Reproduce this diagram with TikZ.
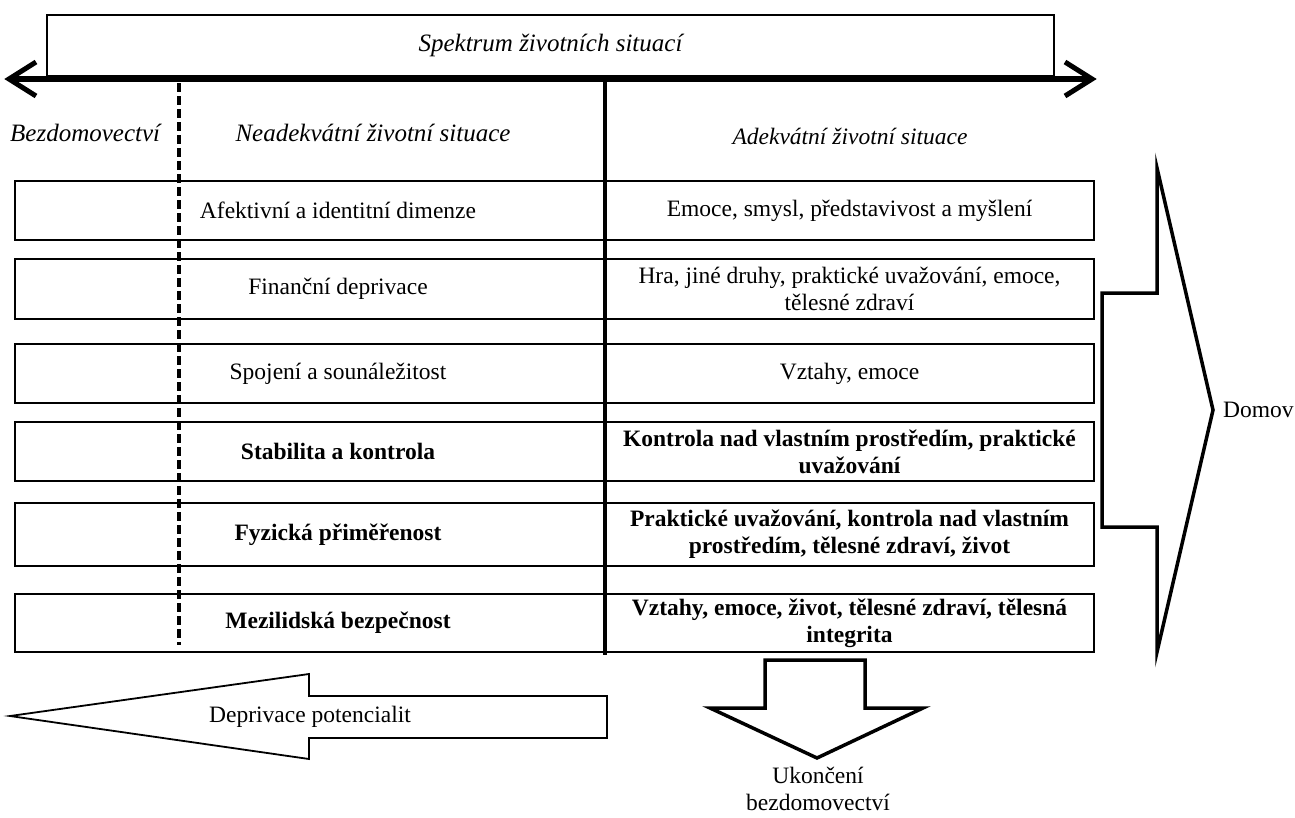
\documentclass[tikz,border=0pt]{standalone}
\usepackage{fontspec}
\setmainfont{Liberation Serif}
\usetikzlibrary{calc}
\begin{document}
\begin{tikzpicture}[x=1pt,y=-1pt,
  box/.style={draw=black, line width=1.6pt, inner sep=0pt},
  lbl/.style={font=\fontsize{23.5}{27}\selectfont, inner sep=0pt},
  rbox/.style={box, font=\fontsize{23.5}{27}\selectfont, align=center, minimum width=489pt},
  lbox/.style={box, minimum width=590pt},
  hdr/.style={font=\fontsize{25}{29}\selectfont\itshape, inner sep=0pt},
  hdrsmall/.style={font=\fontsize{23.5}{27}\selectfont\itshape, inner sep=0pt},
  bigarrow/.style={draw=black, line width=3.5pt, line join=miter},
  thinarrow/.style={draw=black, line width=1.8pt, line join=miter},
  axisline/.style={line width=6pt},
  chev/.style={line width=5pt, line cap=butt, line join=miter},
  dashline/.style={line width=3.5pt, dash pattern=on 9pt off 4pt},
  solidline/.style={line width=3.2pt},
]
\useasboundingbox (0,0) rectangle (1295,817);

% top spectrum box
\node[box, hdr, minimum width=1007pt, minimum height=61pt] (spec) at (550.5,45.5) {Spektrum životních situací};

% double-headed axis
\coordinate (AL) at (9,79);
\coordinate (AR) at (1092,79);
\draw[axisline] ($(AL)+(4,0)$) -- ($(AR)+(-4,0)$);
\draw[chev] ($(AL)+(27,-17)$) -- (AL) -- ($(AL)+(27,17)$);
\draw[chev] ($(AR)+(-27,-17)$) -- (AR) -- ($(AR)+(-27,17)$);

% headers
\node[hdr, anchor=west] (bez) at (10,133) {Bezdomovectví};
\node[hdr] (nea) at (373,133) {Neadekvátní životní situace};
\node[hdrsmall] (ade) at (850,136) {Adekvátní životní situace};

% rows
\node[lbox, minimum height=59pt] (l1) at (310,210.5) {};
\node[rbox, minimum height=59pt] (r1) at (849.5,210.5) {Emoce, smysl, představivost a myšlení};
\node[lbox, minimum height=60pt] (l2) at (310,289) {};
\node[rbox, minimum height=60pt] (r2) at (849.5,289) {Hra, jiné druhy, praktické uvažování, emoce,\\tělesné zdraví};
\node[lbox, minimum height=59pt] (l3) at (310,373.5) {};
\node[rbox, minimum height=59pt] (r3) at (849.5,373.5) {Vztahy, emoce};
\node[lbox, minimum height=59pt] (l4) at (310,451.5) {};
\node[rbox, minimum height=59pt, font=\fontsize{23.5}{27}\selectfont\bfseries] (r4) at (849.5,451.5) {Kontrola nad vlastním prostředím, praktické\\uvažování};
\node[lbox, minimum height=63pt] (l5) at (310,534.5) {};
\node[rbox, minimum height=63pt, font=\fontsize{23.5}{27}\selectfont\bfseries] (r5) at (849.5,534.5) {Praktické uvažování, kontrola nad vlastním\\prostředím, tělesné zdraví, život};
\node[lbox, minimum height=58pt] (l6) at (310,623) {};
\node[rbox, minimum height=58pt, font=\fontsize{23.5}{27}\selectfont\bfseries] (r6) at (849.5,623) {Vztahy, emoce, život, tělesné zdraví, tělesná\\integrita};

\node[lbl] (t1) at (338,210.5) {Afektivní a identitní dimenze};
\node[lbl] (t2) at (338,289) {Finanční deprivace};
\node[lbl] (t3) at (338,373.5) {Spojení a sounáležitost};
\node[lbl, font=\fontsize{23.5}{27}\selectfont\bfseries] (t4) at (338,451.5) {Stabilita a kontrola};
\node[lbl, font=\fontsize{23.5}{27}\selectfont\bfseries] (t5) at (338,534.5) {Fyzická přiměřenost};
\node[lbl, font=\fontsize{23.5}{27}\selectfont\bfseries] (t6) at (338,623) {Mezilidská bezpečnost};

% vertical dividers
\coordinate (D1) at (179,83);
\coordinate (D2) at (179,645);
\draw[dashline] (D1) -- (D2);
\coordinate (S1) at (605,82);
\coordinate (S2) at (605,655);
\draw[solidline] (S1) -- (S2);

% Domov arrow
\draw[bigarrow] (1102,293) -- (1157,293) -- (1157,168) -- (1213,410) -- (1157,652) -- (1157,527) -- (1102,527) -- cycle;
\node[lbl, anchor=west] (dom) at (1223,410) {Domov};

% deprivation arrow
\draw[thinarrow] (10,716) -- (309,674) -- (309,696) -- (607,696) -- (607,738) -- (309,738) -- (309,759) -- cycle;
\node[lbl] (dep) at (310,717) {Deprivace potencialit};

% down arrow
\draw[bigarrow] (765,660) -- (865,660) -- (865,708) -- (923,708) -- (817,758) -- (710,708) -- (765,708) -- cycle;
\node[lbl, font=\fontsize{23.5}{27}\selectfont, align=center] (uk) at (818,789) {Ukončení\\bezdomovectví};
\end{tikzpicture}
\end{document}
